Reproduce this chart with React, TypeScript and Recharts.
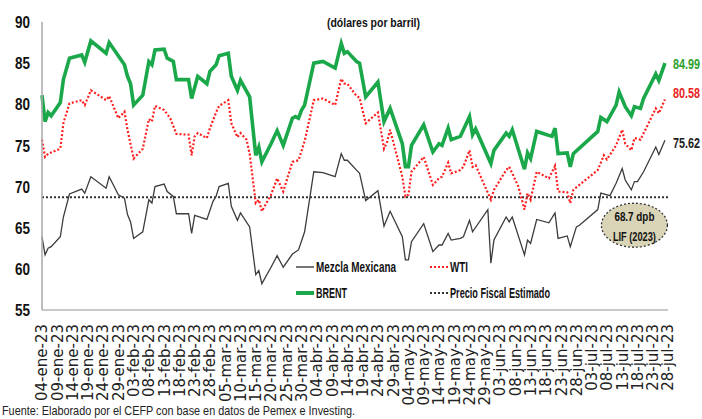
import React from "react";
import { LineChart, Line, XAxis, YAxis, ReferenceLine, ReferenceDot } from "recharts";

// days counted from 04-ene-23
const tickLabels = [
  "04-ene-23", "09-ene-23", "14-ene-23", "19-ene-23", "24-ene-23", "29-ene-23",
  "03-feb-23", "08-feb-23", "13-feb-23", "18-feb-23", "23-feb-23", "28-feb-23",
  "05-mar-23", "10-mar-23", "15-mar-23", "20-mar-23", "25-mar-23", "30-mar-23",
  "04-abr-23", "09-abr-23", "14-abr-23", "19-abr-23", "24-abr-23", "29-abr-23",
  "04-may-23", "09-may-23", "14-may-23", "19-may-23", "24-may-23", "29-may-23",
  "03-jun-23", "08-jun-23", "13-jun-23", "18-jun-23", "23-jun-23", "28-jun-23",
  "03-jul-23", "08-jul-23", "13-jul-23", "18-jul-23", "23-jul-23", "28-jul-23",
];
const tickDays = tickLabels.map((_, i) => i * 5);
const yTicks = [55, 60, 65, 70, 75, 80, 85, 90];

const fiscalPrice = 68.7;

const brentDays = [
  0, 1, 2, 3, 6, 7, 9, 13, 14, 16, 21, 22, 27, 28, 29, 30, 33, 35, 36, 37, 40, 41, 43, 44,
  48, 49, 51, 54, 55, 57, 58, 61, 62, 64, 65, 68, 70, 71, 72, 75, 77, 79, 82, 83, 84, 85,
  86, 89, 92, 96, 98, 99, 100, 103, 104, 106, 110, 112, 114, 118, 119, 120, 121, 125, 128,
  130, 131, 133, 134, 137, 138, 140, 141, 142, 147, 148, 152, 153, 154, 158, 159, 160, 162,
  167, 168, 169, 172, 173, 174, 182, 183, 185, 188, 189, 191, 193, 194, 196, 197, 201, 202, 204,
];
const brentPrices = [
  81.1, 77.9, 79.0, 78.6, 80.2, 83.0, 85.6, 86.0, 85.1, 87.7, 86.2, 87.5, 84.8, 83.4, 82.5, 79.9,
  81.1, 85.2, 84.8, 86.6, 86.7, 85.6, 85.2, 83.0, 83.0, 80.7, 83.4, 82.5, 84.0, 84.8, 85.9, 86.2,
  83.4, 81.7, 82.9, 80.9, 73.8, 74.8, 73.0, 75.2, 76.8, 75.0, 78.3, 78.5, 78.3, 79.3, 79.9, 85.0,
  85.2, 84.4, 87.4, 86.2, 86.4, 85.2, 85.0, 80.9, 82.7, 77.9, 79.5, 75.2, 72.4, 72.4, 75.0, 77.5,
  74.2, 75.2, 75.0, 77.1, 75.7, 76.1, 76.9, 78.5, 76.3, 77.0, 72.8, 74.4, 76.5, 76.1, 76.9, 72.1,
  74.1, 73.4, 76.7, 76.1, 77.1, 74.0, 74.1, 72.4, 74.0, 76.7, 78.4, 77.9, 79.9, 81.5, 79.7, 78.6,
  79.7, 79.5, 80.7, 83.7, 82.9, 84.99,
];

const wtiDays = [
  0, 1, 2, 6, 7, 9, 13, 14, 16, 21, 22, 25, 27, 28, 30, 33, 35, 36, 37, 40, 42, 44, 48, 49,
  50, 51, 54, 55, 57, 58, 61, 62, 64, 65, 67, 68, 69, 70, 71, 72, 75, 77, 79, 82, 84, 86, 89,
  92, 96, 98, 99, 100, 103, 104, 106, 110, 112, 113, 114, 118, 119, 120, 121, 125, 128, 130,
  131, 133, 134, 137, 138, 140, 141, 142, 147, 148, 152, 153, 156, 158, 159, 160, 162, 166,
  168, 169, 172, 173, 174, 182, 184, 185, 188, 190, 191, 193, 194, 196, 201, 202, 204,
];
const wtiPrices = [
  75.7, 73.6, 74.0, 74.6, 77.7, 80.1, 80.5, 79.9, 81.7, 80.5, 81.0, 78.3, 79.1, 76.9, 73.4, 74.6,
  78.2, 77.9, 79.8, 79.3, 78.3, 76.4, 76.3, 73.8, 76.1, 76.5, 75.9, 77.1, 79.0, 79.8, 80.5, 77.7,
  76.0, 76.5, 75.7, 74.0, 71.0, 68.0, 68.4, 67.0, 69.0, 71.0, 69.4, 73.0, 73.2, 75.5, 80.5, 80.7,
  79.9, 83.1, 82.5, 82.5, 81.0, 80.8, 77.7, 79.0, 74.6, 75.4, 76.9, 71.2, 68.8, 69.0, 71.8, 73.6,
  70.2, 71.0, 71.2, 72.9, 71.6, 72.0, 72.4, 74.4, 72.4, 72.6, 68.4, 69.6, 72.0, 72.4, 70.0, 67.2,
  69.2, 68.4, 71.8, 71.0, 72.5, 69.4, 69.3, 68.0, 69.6, 72.0, 73.8, 73.3, 75.0, 76.9, 75.2, 74.4,
  75.9, 75.7, 79.5, 78.9, 80.58,
];

const mezclaDays = [
  0, 1, 2, 3, 6, 7, 9, 13, 14, 16, 21, 22, 25, 27, 28, 29, 30, 33, 35, 36, 37, 40, 41, 43, 44,
  48, 49, 50, 54, 56, 57, 58, 61, 62, 64, 65, 68, 70, 71, 72, 75, 77, 79, 82, 84, 86, 89, 92,
  96, 98, 99, 100, 103, 104, 106, 110, 112, 114, 118, 119, 120, 121, 125, 128, 130, 131, 133,
  134, 137, 138, 140, 141, 146, 147, 148, 152, 153, 154, 158, 159, 160, 162, 166, 168, 169,
  172, 173, 175, 176, 182, 183, 186, 188, 190, 191, 193, 194, 195, 197, 201, 202, 204,
];
const mezclaPrices = [
  63.9, 61.7, 62.5, 62.7, 63.9, 66.3, 69.1, 69.7, 69.2, 71.2, 69.8, 71.2, 69.0, 68.6, 66.6, 65.7,
  63.7, 64.5, 68.4, 68.0, 70.0, 70.3, 69.4, 68.8, 66.7, 66.7, 64.3, 66.5, 66.0, 68.2, 68.8, 70.0,
  70.4, 67.6, 65.9, 66.8, 65.1, 59.3, 59.8, 58.2, 60.2, 61.6, 60.2, 61.8, 62.3, 64.5, 71.8, 71.7,
  71.2, 74.0, 73.2, 73.2, 72.0, 71.6, 68.3, 69.5, 65.2, 67.0, 63.9, 61.1, 61.1, 63.3, 65.5, 62.1,
  62.9, 62.9, 64.3, 63.5, 63.7, 63.9, 65.9, 64.5, 67.2, 60.7, 63.5, 66.3, 65.7, 66.3, 61.7, 63.5,
  63.1, 66.0, 65.6, 66.8, 63.7, 64.0, 62.7, 65.1, 65.3, 67.2, 69.2, 68.9, 70.4, 72.2, 70.8, 69.6,
  70.6, 70.6, 71.8, 74.8, 73.9, 75.62,
];

const toSeries = (days: number[], prices: number[]) =>
  days.map((day, i) => ({ day, price: prices[i] }));

const brent = toSeries(brentDays, brentPrices);
const wti = toSeries(wtiDays, wtiPrices);
const mezcla = toSeries(mezclaDays, mezclaPrices);

const FONT = "'Liberation Sans', Arial, sans-serif";
const GREEN = "#1AA84B";
const RED = "#FF1F1F";
const GRAY = "#3C3C3C";

// the original uses a condensed face; squeeze Liberation Sans to the same widths
const Squeezed = ({ w, children, ...rest }: any) => (
  <text fontFamily={FONT} textLength={w} lengthAdjust="spacingAndGlyphs" {...rest}>
    {children}
  </text>
);

const DateTick = (props: any) => {
  const { x, y, payload } = props;
  return (
    <g transform={`translate(${x},${y + 12})`}>
      <text
        transform="rotate(-90)"
        textAnchor="end"
        dy="0.36em"
        fontFamily="'DejaVu Sans', sans-serif"
        fontSize={15}
        fill="#222"
      >
        {tickLabels[Math.round(payload.value / 5)]}
      </text>
    </g>
  );
};

const PriceTick = (props: any) => {
  const { x, y, payload } = props;
  return (
    <Squeezed w={15} x={x - 15} y={y} dy="0.36em" fontSize={17} fontWeight="bold" fill="#111">
      {payload.value}
    </Squeezed>
  );
};

const endLabel = (color: string, lastIndex: number, shift: number) => (props: any) => {
  if (props.index !== lastIndex) return <g />;
  return (
    <g transform={`translate(${props.x + 8},${props.y + shift}) scale(0.72,1)`}>
      <text x={0} y={0} dy="0.36em" fill={color} fontFamily={FONT} fontWeight="bold" fontSize={15}>
        {Number(props.value).toFixed(2)}
      </text>
    </g>
  );
};

const FiscalBadge = (props: any) => {
  const { cx, cy } = props;
  return (
    <g>
      <ellipse cx={cx} cy={cy} rx={33} ry={22} fill="#D9D4B6" stroke="#333" strokeWidth={1.3} strokeDasharray="2 2" />
      <Squeezed w={40} x={cx - 20} y={cy - 9} dy="0.36em" fontWeight="bold" fontSize={13} fill="#111">
        {`${fiscalPrice} dpb`}
      </Squeezed>
      <Squeezed w={43} x={cx - 21.5} y={cy + 11} dy="0.36em" fontWeight="bold" fontSize={13} fill="#111">
        LIF (2023)
      </Squeezed>
    </g>
  );
};

const legendItems = [
  { name: "Mezcla Mexicana", w: 80, stroke: GRAY, width: 1.4, dash: undefined, col: 0, row: 0 },
  { name: "WTI", w: 18, stroke: RED, width: 2.2, dash: "2 2", col: 1, row: 0 },
  { name: "BRENT", w: 31, stroke: GREEN, width: 4, dash: undefined, col: 0, row: 1 },
  { name: "Precio Fiscal Estimado", w: 100, stroke: "#333", width: 2, dash: "2 2", col: 1, row: 1 },
];

export default function App() {
  return (
    <div style={{ position: "absolute", left: 0, top: 0, width: 702, height: 419, background: "#fff" }}>
      <LineChart width={702} height={419} data={brent} margin={{ top: 22, right: 34, bottom: 0, left: 0 }}>
        <XAxis
          dataKey="day"
          type="number"
          domain={[0, 205]}
          ticks={tickDays}
          interval={0}
          height={109}
          tick={<DateTick />}
          tickLine={false}
          tickSize={0}
          axisLine={{ stroke: "#B8B8B8", strokeWidth: 1.5 }}
        />
        <YAxis
          type="number"
          domain={[55, 90]}
          ticks={yTicks}
          width={42}
          tickLine={false}
          tickSize={0}
          tickMargin={12}
          axisLine={{ stroke: "#A8A8A8", strokeWidth: 1.5 }}
          tick={<PriceTick />}
        />
        <ReferenceLine y={fiscalPrice} stroke="#333" strokeWidth={2} strokeDasharray="2 2" />
        <Line
          data={mezcla}
          dataKey="price"
          stroke={GRAY}
          strokeWidth={1.3}
          dot={false}
          isAnimationActive={false}
          label={endLabel("#222", mezcla.length - 1, 2)}
        />
        <Line
          data={wti}
          dataKey="price"
          stroke={RED}
          strokeWidth={2.2}
          strokeDasharray="2 2"
          dot={false}
          isAnimationActive={false}
          label={endLabel("#E8221C", wti.length - 1, -7)}
        />
        <Line
          data={brent}
          dataKey="price"
          stroke={GREEN}
          strokeWidth={3.6}
          dot={false}
          isAnimationActive={false}
          label={endLabel("#2AA02A", brent.length - 1, 0)}
        />
        <ReferenceDot x={194} y={65.3} r={1} shape={<FiscalBadge />} />
      </LineChart>
      <svg width={702} height={419} style={{ position: "absolute", left: 0, top: 0, pointerEvents: "none" }}>
        <Squeezed w={93} x={327} y={22} dy="0.36em" fontWeight="bold" fontSize={13} fill="#111">
          (dólares por barril)
        </Squeezed>
        {legendItems.map((item) => {
          const x0 = item.col === 0 ? 296 : 430;
          const y0 = item.row === 0 ? 267 : 293;
          return (
            <g key={item.name}>
              <line x1={x0} x2={x0 + 18} y1={y0} y2={y0} stroke={item.stroke} strokeWidth={item.width} strokeDasharray={item.dash} />
              <Squeezed w={item.w} x={x0 + 20} y={y0} dy="0.36em" fontWeight="bold" fontSize={14} fill="#111">
                {item.name}
              </Squeezed>
            </g>
          );
        })}
        <Squeezed w={353} x={2} y={415} fontSize={13} fill="#222">
          Fuente: Elaborado por el CEFP con base en datos de Pemex e Investing.
        </Squeezed>
      </svg>
    </div>
  );
}
